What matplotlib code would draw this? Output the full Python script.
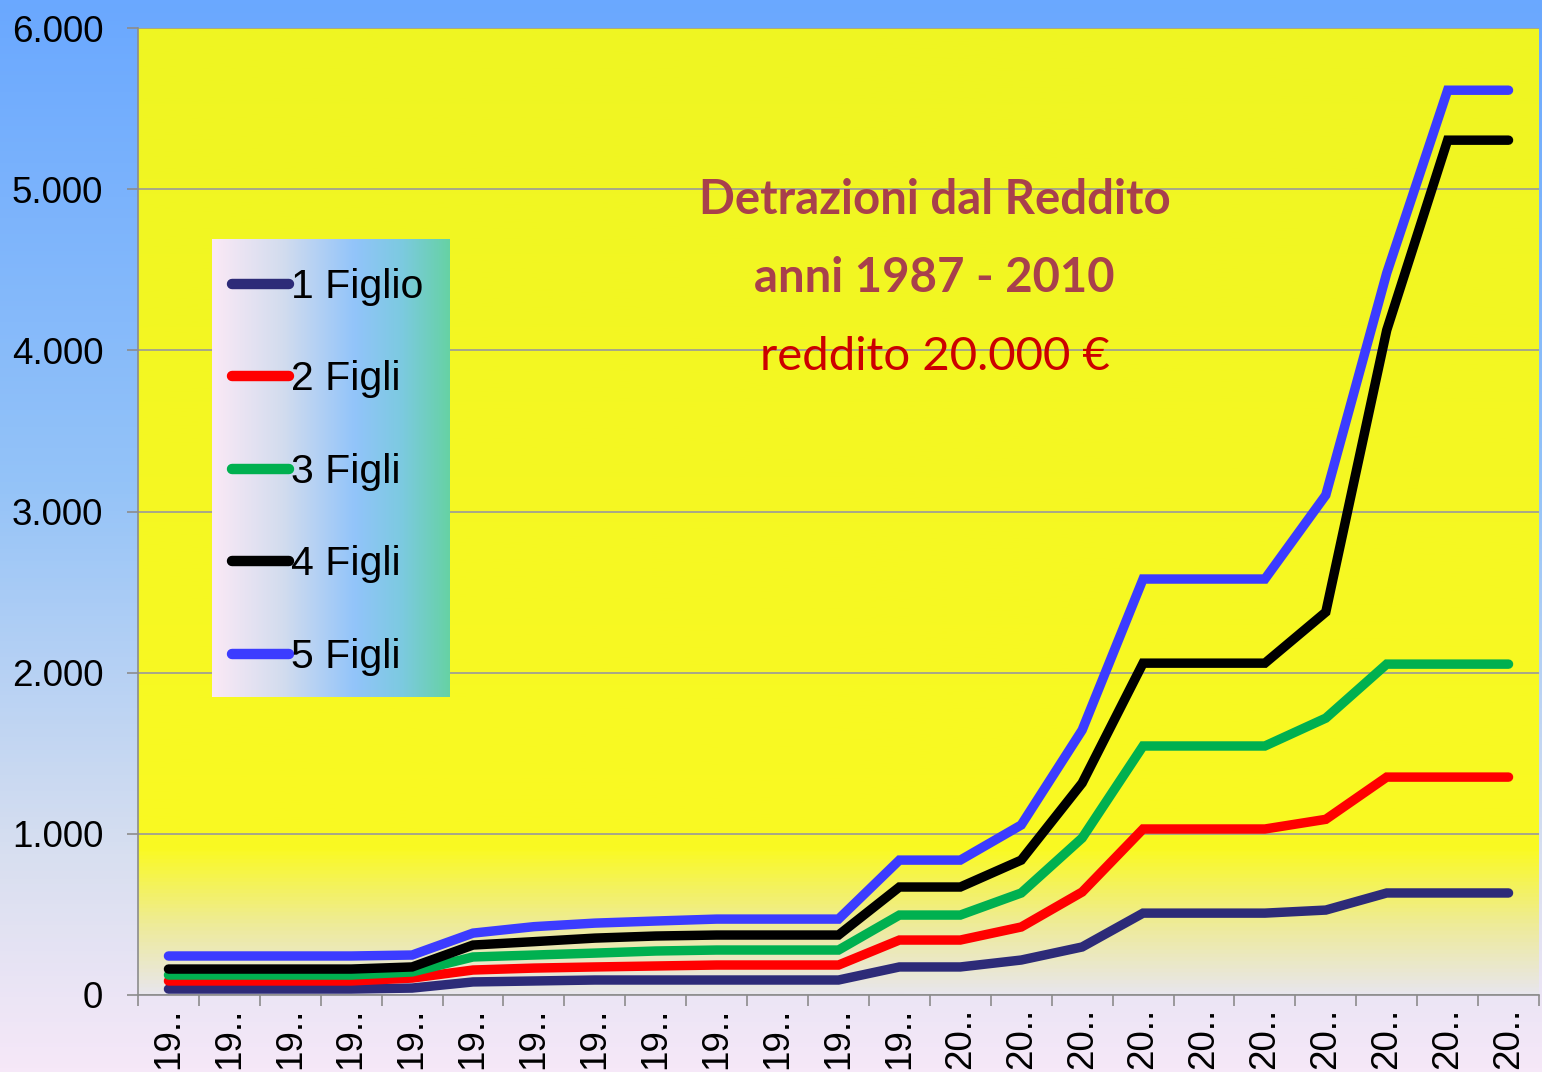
import numpy as np
import matplotlib.pyplot as plt
from matplotlib.colors import LinearSegmentedColormap
from matplotlib.ticker import FuncFormatter

# anni 1987 - 2009, etichette troncate come nell'originale
x_labels = ["19.."] * 13 + ["20.."] * 10

figli_1 = [37, 37, 37, 37, 43, 81, 87, 93, 93, 93, 93, 93,
           174, 174, 217, 298, 508, 508, 508, 527, 633, 633, 633]
figli_2 = [87, 87, 87, 87, 105, 155, 167, 174, 180, 186, 186, 186,
           341, 341, 422, 639, 1030, 1030, 1030, 1090, 1352, 1352, 1352]
figli_3 = [124, 124, 124, 124, 143, 236, 248, 260, 273, 279, 279, 279,
           496, 496, 633, 974, 1545, 1545, 1545, 1718, 2053, 2053, 2053]
figli_4 = [161, 161, 161, 161, 174, 310, 331, 353, 366, 372, 372, 372,
           670, 670, 837, 1315, 2059, 2059, 2059, 2376, 4125, 5304, 5304]
figli_5 = [242, 242, 242, 242, 248, 384, 424, 446, 459, 471, 471, 471,
           837, 837, 1055, 1644, 2581, 2581, 2581, 3102, 4479, 5614, 5614]

series_names = ["1 Figlio", "2 Figli", "3 Figli", "4 Figli", "5 Figli"]
series_colors = ["#2d2b78", "#ff0000", "#00b050", "#000000", "#3c3cff"]

fig = plt.figure(figsize=(15.42, 10.72), dpi=100)

# figure background gradient (blue at top -> pale pink at bottom)
bg = fig.add_axes([0, 0, 1, 1], zorder=-10)
bg_cmap = LinearSegmentedColormap.from_list(
    "bg", [(0.0, "#6aa8ff"), (0.45, "#94c3f8"), (0.8, "#d8dff0"), (1.0, "#f6e8f8")])
bg.imshow(np.linspace(0, 1, 256).reshape(-1, 1), cmap=bg_cmap, aspect="auto",
          extent=[0, 1, 0, 1], origin="upper")
bg.set_axis_off()

ax = fig.add_axes([138 / 1542, 1 - 995 / 1072, 1401 / 1542, 967 / 1072])
ax.set_facecolor("none")

# plot area: yellow fading to pale grey near zero
area_cmap = LinearSegmentedColormap.from_list(
    "area", [(0.0, "#e8e6ec"), (0.07, "#eeeb9a"), (0.15, "#fafa22"), (1.0, "#eff522")])
ax.imshow(np.linspace(0, 1, 512).reshape(-1, 1), cmap=area_cmap, aspect="auto",
          extent=[-0.5, 22.5, 0, 6000], origin="lower", zorder=0)

x = np.arange(len(x_labels))
lines = []
for vals, name, col in zip([figli_1, figli_2, figli_3, figli_4, figli_5],
                           series_names, series_colors):
    ln, = ax.plot(x, vals, color=col, lw=6.8, solid_capstyle="round",
                  solid_joinstyle="miter", label=name, zorder=3)
    lines.append(ln)

ax.set_xlim(-0.5, 22.5)
ax.set_ylim(0, 6000)
ax.set_yticks(np.arange(0, 6001, 1000))
ax.yaxis.set_major_formatter(FuncFormatter(lambda v, p: f"{int(v):,}".replace(",", ".")))
ax.grid(axis="y", color="#9a9a9a", lw=1.2, zorder=1)

ax.set_xticks(x)
ax.set_xticklabels(x_labels, rotation=90)
ax.set_xticks(np.arange(-0.5, 23, 1), minor=True)
ax.tick_params(axis="x", which="major", length=0, pad=9)
ax.tick_params(axis="x", which="minor", length=8, width=1.2, color="#8c8c8c")
ax.tick_params(axis="y", length=8, width=1.2, color="#8c8c8c", pad=17)
for lab in ax.get_xticklabels() + ax.get_yticklabels():
    lab.set_fontfamily("Liberation Sans")
    lab.set_fontsize(26.5)

for s in ["top", "right"]:
    ax.spines[s].set_visible(False)
for s in ["left", "bottom"]:
    ax.spines[s].set_color("#8c8c8c")
    ax.spines[s].set_linewidth(1.2)

# title inside the plot
title_font = ["Lato", "DejaVu Sans"]
ax.text(0.5685, 0.822, "Detrazioni dal Reddito", transform=ax.transAxes,
        ha="center", va="center", fontsize=34, fontweight="bold",
        color="#a8404c", family=title_font, zorder=5)
ax.text(0.5685, 0.7415, "anni 1987 - 2010", transform=ax.transAxes,
        ha="center", va="center", fontsize=34, fontweight="bold",
        color="#a8404c", family=title_font, zorder=5)
ax.text(0.5685, 0.660, "reddito 20.000 €", transform=ax.transAxes,
        ha="center", va="center", fontsize=34,
        color="#cc0000", family=title_font, zorder=5)

# legend box with horizontal gradient
lg_ax = fig.add_axes([212 / 1542, 1 - 697 / 1072, 237 / 1542, 458 / 1072])
lg_cmap = LinearSegmentedColormap.from_list(
    "lg", [(0.0, "#fbe9f6"), (0.3, "#d2dcee"), (0.6, "#92c4fa"), (0.8, "#7ccae0"), (1.0, "#66d2a4")])
lg_ax.imshow(np.linspace(0, 1, 256).reshape(1, -1), cmap=lg_cmap, aspect="auto",
             extent=[0, 1, 0, 1])
lg_ax.set_axis_off()

leg = fig.legend(handles=lines, loc="upper left",
                 bbox_to_anchor=(232 / 1542, 1 - 268 / 1072),
                 frameon=False, prop={"family": "Liberation Sans", "size": 29.5},
                 handlelength=1.4, handletextpad=0.05, labelspacing=1.33,
                 borderpad=0, borderaxespad=0)
for h in leg.get_lines():
    h.set_linewidth(7.5)

fig.savefig("out.png", dpi=100)
